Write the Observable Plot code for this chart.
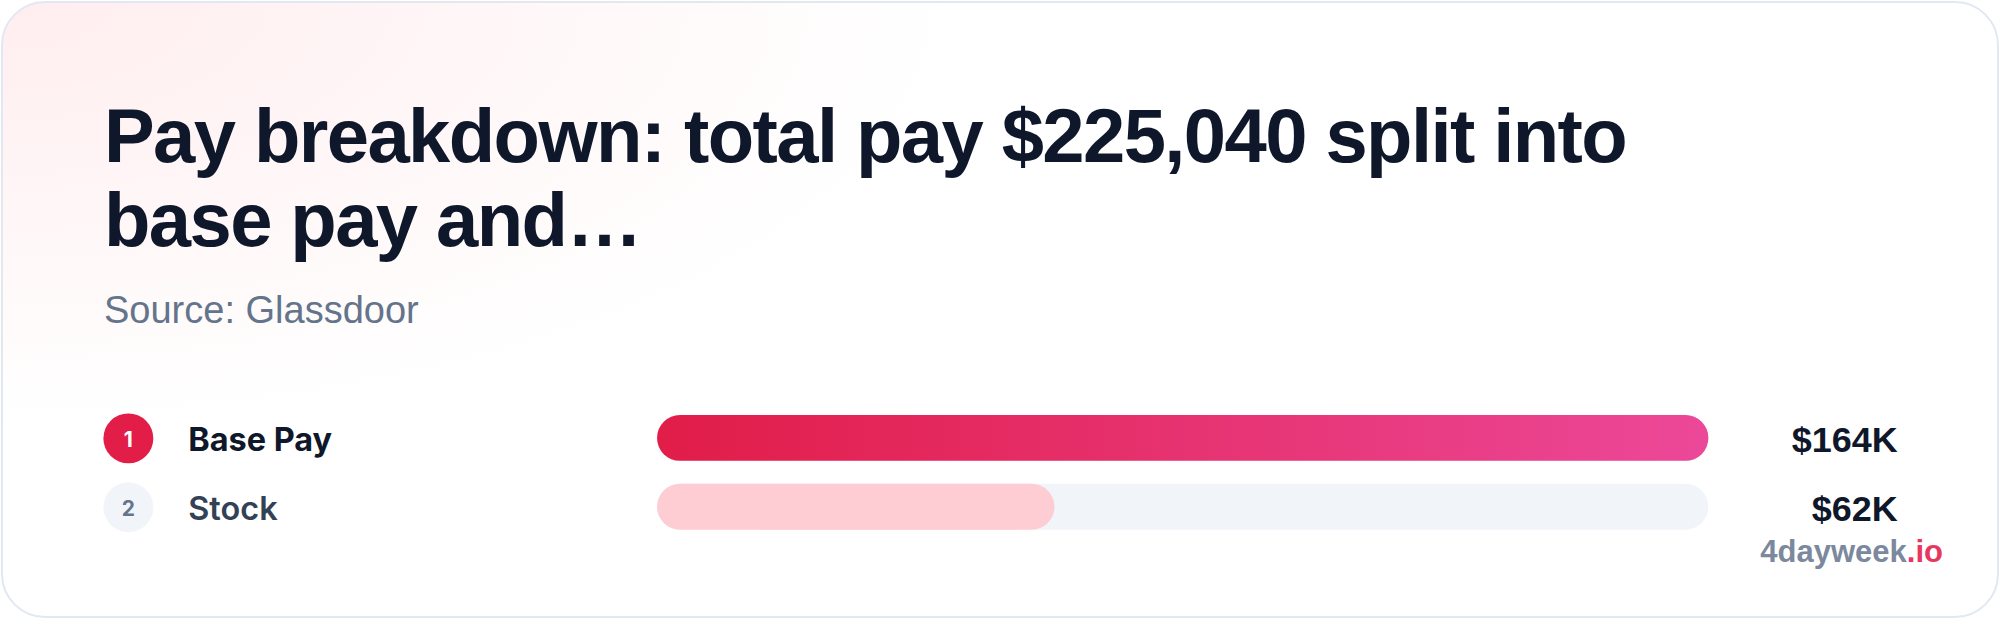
<!DOCTYPE html>
<html>
<head>
<meta charset="utf-8">
<script src="https://cdn.jsdelivr.net/npm/d3@7"></script>
<script src="https://cdn.jsdelivr.net/npm/@observablehq/plot@0.6"></script>
<style>
  html, body { margin: 0; padding: 0; width: 2000px; height: 619px; overflow: hidden; background: #ffffff; }
  #card {
    position: absolute; left: 1px; top: 1px; width: 1998px; height: 617px; box-sizing: border-box;
    border: 2px solid #e2e8f0; border-radius: 44px; overflow: hidden;
    background: radial-gradient(ellipse 950px 420px at 0 0, rgba(255,226,228,0.6), rgba(255,255,255,0)), #ffffff;
  }
  #title {
    position: absolute; left: 101px; top: 91px; margin: 0;
    font-family: "Liberation Sans", Arial, Helvetica, sans-serif; font-weight: 700;
    font-size: 76px; line-height: 84px; letter-spacing: -0.021em; color: #0f172a; white-space: nowrap;
  }
  #source {
    position: absolute; left: 101px; top: 288px; margin: 0;
    font-family: "Liberation Sans", Arial, Helvetica, sans-serif; font-weight: 400;
    font-size: 38px; line-height: 38px; color: #64748b; white-space: nowrap;
  }
  #chart { position: absolute; left: -3px; top: 377px; }
  #brand {
    position: absolute; right: 54px; top: 534px;
    font-family: "Liberation Sans", Arial, Helvetica, sans-serif; font-weight: 700;
    font-size: 31px; line-height: 30px; color: #7c889e; white-space: nowrap;
  }
  #brand span { color: #e8375f; }
</style>
</head>
<body>
<div id="card">
  <h1 id="title">Pay breakdown: total pay $225,040 split into<br>base pay and…</h1>
  <p id="source">Source: Glassdoor</p>
  <div id="chart"></div>
  <div id="brand">4dayweek<span>.io</span></div>
</div>
<script>
// ---- data ----
const categories = ["Base Pay", "Stock"];
const ranks = [1, 2];
const payValues = [164000, 62000];

const rows = categories.map((label, i) => ({label, rank: ranks[i], value: payValues[i]}));
const maxVal = d3.max(payValues);
const fmt = v => "$" + Math.round(v / 1000) + "K";

const top1 = rows.filter(d => d.rank === 1);
const rest = rows.filter(d => d.rank !== 1);

const interFont = "Inter, 'Noto Sans', sans-serif";
const helvFont = "'Liberation Sans', Arial, Helvetica, sans-serif";

const plot = Plot.plot({
  width: 2000,
  height: 200,
  marginLeft: 658,
  marginRight: 289,
  marginTop: 0,
  marginBottom: 0,
  style: {background: "transparent", overflow: "visible"},
  x: {domain: [0, maxVal], axis: null},
  y: {type: "band", domain: categories, range: [35, 150], paddingInner: 1/3, paddingOuter: 0, round: false, axis: null},
  marks: [
    // track
    Plot.barX(rows, {y: "label", x1: 0, x2: maxVal, fill: "#f1f5f9", rx: 23}),
    // value bars
    Plot.barX(top1, {y: "label", x1: 0, x2: "value", fill: "url(#barGrad)", rx: 23}),
    Plot.barX(rest, {y: "label", x1: 0, x2: "value", fill: "#fecdd3", rx: 23}),
    // rank circles
    Plot.dot(top1, {y: "label", frameAnchor: "left", dx: -530, r: 25, fill: "#e11d48", stroke: null}),
    Plot.dot(rest, {y: "label", frameAnchor: "left", dx: -530, r: 25, fill: "#f1f5f9", stroke: null}),
    Plot.text(top1, {y: "label", text: d => String(d.rank), frameAnchor: "left", dx: -530, dy: 2, textAnchor: "middle",
      fontFamily: interFont, fontWeight: 700, fontSize: 21, fill: "#ffffff"}),
    Plot.text(rest, {y: "label", text: d => String(d.rank), frameAnchor: "left", dx: -530, dy: 2, textAnchor: "middle",
      fontFamily: interFont, fontWeight: 700, fontSize: 21, fill: "#64748b"}),
    // category labels
    Plot.text(top1, {y: "label", text: "label", frameAnchor: "left", dx: -470, dy: 2, textAnchor: "start",
      fontFamily: interFont, fontWeight: 700, fontSize: 32.5, fill: "#0f172a"}),
    Plot.text(rest, {y: "label", text: "label", frameAnchor: "left", dx: -470, dy: 2, textAnchor: "start",
      fontFamily: interFont, fontWeight: 600, fontSize: 32.5, fill: "#334155"}),
    // value labels
    Plot.text(rows, {y: "label", text: d => fmt(d.value), frameAnchor: "right", dx: 189, dy: 2.5, textAnchor: "end",
      fontFamily: helvFont, fontWeight: 700, fontSize: 36, fill: "#0f172a"})
  ]
});

// gradient definition for the leading bar
const ns = "http://www.w3.org/2000/svg";
const defs = document.createElementNS(ns, "defs");
const grad = document.createElementNS(ns, "linearGradient");
grad.setAttribute("id", "barGrad");
grad.setAttribute("x1", "0"); grad.setAttribute("x2", "1");
grad.setAttribute("y1", "0"); grad.setAttribute("y2", "0");
[["0%", "#e11d48"], ["100%", "#ec4899"]].forEach(([o, c]) => {
  const s = document.createElementNS(ns, "stop");
  s.setAttribute("offset", o); s.setAttribute("stop-color", c);
  grad.appendChild(s);
});
defs.appendChild(grad);
plot.insertBefore(defs, plot.firstChild);

document.getElementById("chart").appendChild(plot);
</script>
</body>
</html>
